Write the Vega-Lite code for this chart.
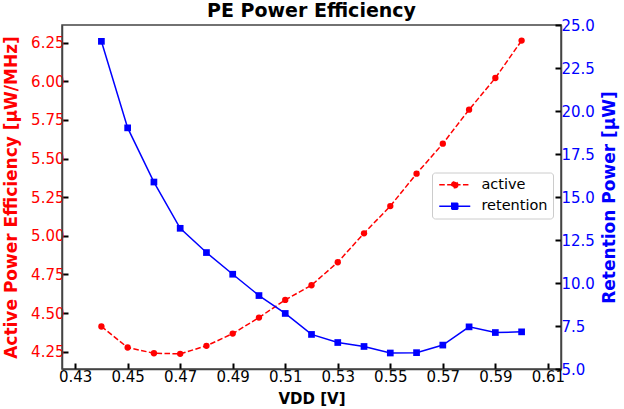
{
  "$schema": "https://vega.github.io/schema/vega-lite/v6.json",
  "autosize": "none",
  "padding": {"left": 62, "top": 25, "right": 63, "bottom": 41},
  "width": 499,
  "height": 344,
  "background": "white",
  "title": {
    "text": "PE Power Efficiency",
    "fontSize": 19,
    "font": "DejaVu Sans",
    "fontWeight": "bold",
    "color": "black",
    "anchor": "middle",
    "frame": "group",
    "baseline": "alphabetic",
    "offset": 2,
    "dy": 20
  },
  "config": {
    "font": "DejaVu Sans",
    "view": {"stroke": "#444", "strokeWidth": 1.5},
    "axis": {
      "grid": false,
      "domainColor": "#444",
      "domainWidth": 1.5,
      "tickColor": "black",
      "tickWidth": 2,
      "tickSize": -6,
      "labelFontSize": 15,
      "labelFont": "DejaVu Sans",
      "titleFont": "DejaVu Sans",
      "titleFontSize": 17,
      "titleFontWeight": "bold"
    }
  },
  "data": {
    "values": [
      {"vdd": 0.44, "series": "active", "value": 4.413},
      {"vdd": 0.45, "series": "active", "value": 4.277},
      {"vdd": 0.46, "series": "active", "value": 4.240},
      {"vdd": 0.47, "series": "active", "value": 4.236},
      {"vdd": 0.48, "series": "active", "value": 4.288},
      {"vdd": 0.49, "series": "active", "value": 4.367},
      {"vdd": 0.50, "series": "active", "value": 4.471},
      {"vdd": 0.51, "series": "active", "value": 4.585},
      {"vdd": 0.52, "series": "active", "value": 4.680},
      {"vdd": 0.53, "series": "active", "value": 4.829},
      {"vdd": 0.54, "series": "active", "value": 5.016},
      {"vdd": 0.55, "series": "active", "value": 5.192},
      {"vdd": 0.56, "series": "active", "value": 5.402},
      {"vdd": 0.57, "series": "active", "value": 5.596},
      {"vdd": 0.58, "series": "active", "value": 5.816},
      {"vdd": 0.59, "series": "active", "value": 6.021},
      {"vdd": 0.60, "series": "active", "value": 6.263},
      {"vdd": 0.44, "series": "retention", "value": 24.05},
      {"vdd": 0.45, "series": "retention", "value": 19.02},
      {"vdd": 0.46, "series": "retention", "value": 15.87},
      {"vdd": 0.47, "series": "retention", "value": 13.18},
      {"vdd": 0.48, "series": "retention", "value": 11.77},
      {"vdd": 0.49, "series": "retention", "value": 10.51},
      {"vdd": 0.50, "series": "retention", "value": 9.27},
      {"vdd": 0.51, "series": "retention", "value": 8.23},
      {"vdd": 0.52, "series": "retention", "value": 7.01},
      {"vdd": 0.53, "series": "retention", "value": 6.54},
      {"vdd": 0.54, "series": "retention", "value": 6.31},
      {"vdd": 0.55, "series": "retention", "value": 5.93},
      {"vdd": 0.56, "series": "retention", "value": 5.95},
      {"vdd": 0.57, "series": "retention", "value": 6.39},
      {"vdd": 0.58, "series": "retention", "value": 7.45},
      {"vdd": 0.59, "series": "retention", "value": 7.12},
      {"vdd": 0.60, "series": "retention", "value": 7.16}
    ]
  },
  "encoding": {
    "x": {
      "field": "vdd",
      "type": "quantitative",
      "title": "VDD [V]",
      "scale": {"domain": [0.425, 0.615], "nice": false, "zero": false},
      "axis": {
        "values": [0.43, 0.45, 0.47, 0.49, 0.51, 0.53, 0.55, 0.57, 0.59, 0.61],
        "format": ".2f",
        "labelColor": "black",
        "titleColor": "black",
        "titleFontSize": 15,
        "labelPadding": 6,
        "titlePadding": 7
      }
    }
  },
  "layer": [
    {
      "transform": [{"filter": "datum.series == 'active'"}],
      "encoding": {
        "y": {
          "field": "value",
          "type": "quantitative",
          "title": "Active Power Efficiency [μW/MHz]",
          "scale": {"domain": [4.138, 6.364], "nice": false, "zero": false},
          "axis": {
            "values": [4.25, 4.5, 4.75, 5.0, 5.25, 5.5, 5.75, 6.0, 6.25],
            "format": ".2f",
            "labelColor": "red",
            "titleColor": "red",
            "labelPadding": 4,
            "titlePadding": 10
          }
        }
      },
      "layer": [
        {"mark": {"type": "line", "color": "red", "strokeWidth": 1.5, "strokeDash": [5.5, 2.4]}},
        {"mark": {"type": "point", "shape": "circle", "filled": true, "color": "red", "size": 40, "opacity": 1}}
      ]
    },
    {
      "transform": [{"filter": "datum.series == 'retention'"}],
      "encoding": {
        "y": {
          "field": "value",
          "type": "quantitative",
          "title": "Retention Power [μW]",
          "scale": {"domain": [5, 25], "nice": false, "zero": false},
          "axis": {
            "orient": "right",
            "values": [5, 7.5, 10, 12.5, 15, 17.5, 20, 22.5, 25],
            "format": ".1f",
            "labelColor": "blue",
            "titleColor": "blue",
            "titleAngle": 270,
            "titleBaseline": "top",
            "labelPadding": 6,
            "titlePadding": 7
          }
        }
      },
      "layer": [
        {"mark": {"type": "line", "color": "blue", "strokeWidth": 1.5}},
        {"mark": {"type": "point", "shape": "square", "filled": true, "color": "blue", "size": 45, "opacity": 1}}
      ]
    },
    {
      "transform": [{"filter": "false"}],
      "mark": {"type": "point", "opacity": 1, "strokeWidth": 1.5},
      "encoding": {
        "fill": {
          "field": "series",
          "type": "nominal",
          "scale": {"domain": ["active", "retention"], "range": ["red", "blue"]},
          "legend": {
            "title": null,
            "orient": "none",
            "legendX": 370,
            "legendY": 147.5,
            "symbolSize": 100,
            "symbolOffset": 10.5,
            "symbolStrokeWidth": 1.5,
            "labelFontSize": 14.5,
            "labelFont": "DejaVu Sans",
            "labelColor": "black",
            "labelOffset": 19.4,
            "rowPadding": 6.5,
            "padding": 5,
            "strokeColor": "#ccc",
            "fillColor": "white",
            "cornerRadius": 3
          }
        },
        "stroke": {
          "field": "series",
          "type": "nominal",
          "scale": {"domain": ["active", "retention"], "range": ["red", "blue"]},
          "legend": {"title": null}
        },
        "shape": {
          "field": "series",
          "type": "nominal",
          "scale": {
            "domain": ["active", "retention"],
            "range": [
              "M-3.1,0H3.1M0.6,0A0.6,0.6 0 1,1 -0.6,0A0.6,0.6 0 1,1 0.6,0",
              "M-3.1,0H3.1M-0.6,-0.6H0.6V0.6H-0.6Z"
            ]
          },
          "legend": {"title": null}
        },
        "strokeDash": {
          "field": "series",
          "type": "nominal",
          "scale": {"domain": ["active", "retention"], "range": [[5.5, 2.4], [1, 0]]},
          "legend": {"title": null}
        }
      }
    }
  ],
  "resolve": {"scale": {"y": "independent"}}
}
